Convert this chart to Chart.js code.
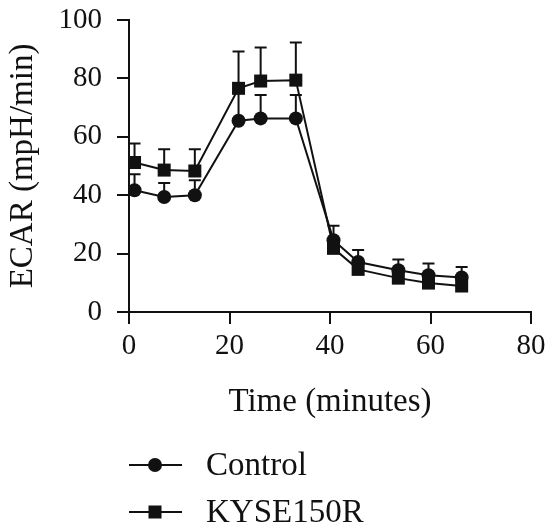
<!DOCTYPE html>
<html>
<head>
<meta charset="utf-8">
<script src="https://cdn.jsdelivr.net/npm/chart.js@4.4.0/dist/chart.umd.min.js"></script>
<style>
  html, body { margin: 0; padding: 0; background: #fff; }
  #wrap { width: 547px; height: 531px; }
</style>
</head>
<body>
<div id="wrap"><canvas id="ecarChart"></canvas></div>
<script>
// 読み取った値（時間・平均・上側エラー）
const times = [1.1, 7.0, 13.1, 21.8, 26.2, 33.2, 40.7, 45.6, 53.6, 59.6, 66.2];
const controlMean = [41.7, 39.4, 40.0, 65.5, 66.3, 66.3, 24.6, 17.1, 14.3, 12.6, 11.8];
const controlErr = [5.5, 4.8, 5.1, 9.5, 8.0, 8.0, 4.9, 4.1, 3.7, 4.0, 3.6];
const kyseMean = [51.2, 48.6, 48.3, 76.6, 79.1, 79.4, 21.8, 14.6, 11.6, 9.9, 8.9];
const kyseErr = [6.5, 7.1, 7.4, 12.6, 11.5, 12.9, 3.0, 2.5, 2.5, 2.5, 2.5];
const seriesNames = ["Control", "KYSE150R"];
const xTicks = [0, 20, 40, 60, 80];
const yTicks = [0, 20, 40, 60, 80, 100];

const INK = "#111";
const SERIF = "'Liberation Serif', 'Times New Roman', serif";

const toPoints = (ys) => ys.map((y, i) => ({ x: times[i], y: y }));

// 上側だけのエラーバー
const errorBars = {
  id: "errorBars",
  beforeDatasetsDraw(chart) {
    const ctx = chart.ctx;
    const yScale = chart.scales.y;
    chart.data.datasets.forEach((ds, di) => {
      const meta = chart.getDatasetMeta(di);
      ctx.save();
      ctx.strokeStyle = INK;
      ctx.lineWidth = 2;
      meta.data.forEach((pt, i) => {
        const top = yScale.getPixelForValue(ds.data[i].y + ds.errUp[i]);
        ctx.beginPath();
        ctx.moveTo(pt.x, pt.y);
        ctx.lineTo(pt.x, top);
        ctx.moveTo(pt.x - 6, top);
        ctx.lineTo(pt.x + 6, top);
        ctx.stroke();
      });
      ctx.restore();
    });
  }
};

// 凡例（線＋マーカー、縦に並べる）
const stackedLegend = {
  id: "stackedLegend",
  afterDraw(chart) {
    const ctx = chart.ctx;
    const left = chart.chartArea.left;
    const base = chart.chartArea.bottom;
    chart.data.datasets.forEach((ds, i) => {
      const y = base + 153 + i * 47;
      ctx.save();
      ctx.strokeStyle = INK;
      ctx.fillStyle = INK;
      ctx.lineWidth = 2;
      ctx.beginPath();
      ctx.moveTo(left, y);
      ctx.lineTo(left + 53, y);
      ctx.stroke();
      Chart.helpers.drawPoint(ctx, {
        pointStyle: ds.pointStyle,
        radius: ds.pointRadius,
        borderWidth: 0
      }, left + 26, y);
      ctx.font = "33px " + SERIF;
      ctx.textBaseline = "middle";
      ctx.fillText(ds.label, left + 77, y + 1);
      ctx.restore();
    });
  }
};

new Chart(document.getElementById("ecarChart").getContext("2d"), {
  type: "line",
  data: {
    datasets: [
      {
        label: seriesNames[0],
        data: toPoints(controlMean),
        errUp: controlErr,
        borderColor: INK,
        backgroundColor: INK,
        borderWidth: 2,
        pointStyle: "circle",
        pointRadius: 7,
        pointBorderWidth: 0,
        pointBackgroundColor: INK
      },
      {
        label: seriesNames[1],
        data: toPoints(kyseMean),
        errUp: kyseErr,
        borderColor: INK,
        backgroundColor: INK,
        borderWidth: 2,
        pointStyle: "rect",
        pointRadius: 9.2,
        pointBorderWidth: 0,
        pointBackgroundColor: INK
      }
    ]
  },
  options: {
    responsive: true,
    maintainAspectRatio: false,
    animation: false,
    layout: { padding: { top: 20, right: 16, bottom: 109, left: 0 } },
    plugins: {
      legend: { display: false },
      tooltip: { enabled: false }
    },
    scales: {
      x: {
        type: "linear",
        min: 0,
        max: 80,
        afterBuildTicks: (s) => { s.ticks = xTicks.map((v) => ({ value: v })); },
        afterFit: (s) => {
          s.height = 110;
          s.paddingLeft = 0;
          s.paddingRight = 0;
        },
        ticks: {
          color: INK,
          font: { family: SERIF, size: 29 },
          padding: 5,
          maxRotation: 0
        },
        grid: {
          drawOnChartArea: false,
          drawTicks: true,
          tickLength: 12,
          lineWidth: 2,
          color: INK
        },
        border: { display: true, color: INK, width: 2 },
        title: {
          display: true,
          text: "Time (minutes)",
          color: INK,
          font: { family: SERIF, size: 33 },
          padding: { top: 0, bottom: 0 }
        }
      },
      y: {
        min: 0,
        max: 100,
        afterBuildTicks: (s) => { s.ticks = yTicks.map((v) => ({ value: v })); },
        afterFit: (s) => {
          s.width = 129;
          s.paddingTop = 0;
          s.paddingBottom = 0;
        },
        ticks: {
          color: INK,
          font: { family: SERIF, size: 29 },
          padding: 15
        },
        grid: {
          drawOnChartArea: false,
          drawTicks: true,
          tickLength: 12,
          lineWidth: 2,
          color: INK
        },
        border: { display: true, color: INK, width: 2 },
        title: {
          display: true,
          text: "ECAR (mpH/min)",
          color: INK,
          font: { family: SERIF, size: 33 },
          padding: { top: 4, bottom: 0 }
        }
      }
    }
  },
  plugins: [errorBars, stackedLegend]
});
</script>
</body>
</html>
